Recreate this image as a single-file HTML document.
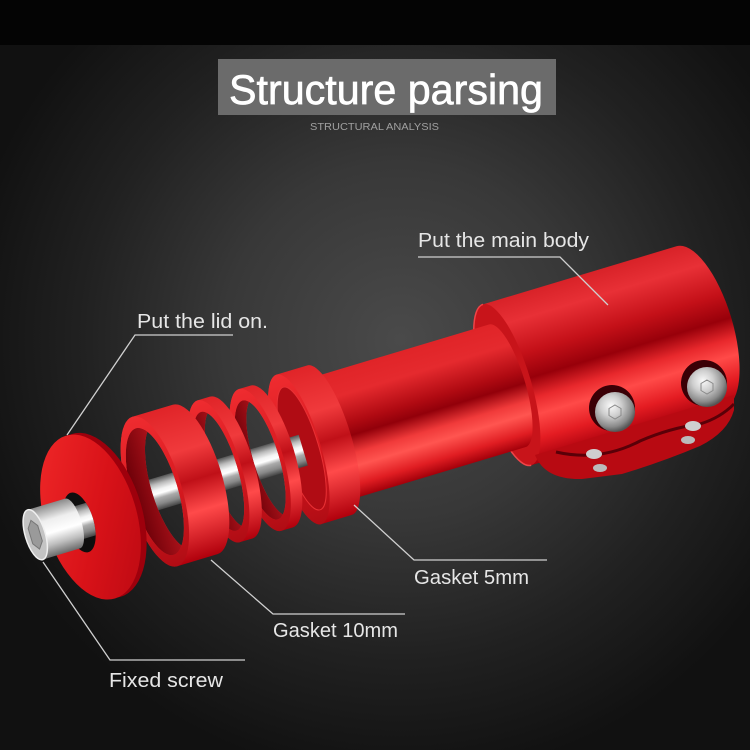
<!DOCTYPE html>
<html><head><meta charset="utf-8"><style>
html,body{margin:0;padding:0;background:#111;}
svg{display:block;}
</style></head><body>
<svg width="750" height="750" viewBox="0 0 750 750" xmlns="http://www.w3.org/2000/svg">
<defs>
  <radialGradient id="bg" gradientUnits="userSpaceOnUse" cx="400" cy="340" r="440">
    <stop offset="0" stop-color="#4a4a4a"/>
    <stop offset="0.4" stop-color="#383838"/>
    <stop offset="0.72" stop-color="#212121"/>
    <stop offset="1" stop-color="#111111"/>
  </radialGradient>
  <linearGradient id="gBody" x1="0" y1="0" x2="0" y2="1">
    <stop offset="0" stop-color="#d82228"/>
    <stop offset="0.15" stop-color="#e83036"/>
    <stop offset="0.35" stop-color="#c41018"/>
    <stop offset="0.5" stop-color="#98000a"/>
    <stop offset="0.62" stop-color="#e8282c"/>
    <stop offset="0.72" stop-color="#ff4a48"/>
    <stop offset="0.86" stop-color="#e41c22"/>
    <stop offset="1" stop-color="#a8000c"/>
  </linearGradient>
  <linearGradient id="gTube" x1="0" y1="0" x2="0" y2="1">
    <stop offset="0" stop-color="#e02428"/>
    <stop offset="0.2" stop-color="#e52a2e"/>
    <stop offset="0.42" stop-color="#b00a12"/>
    <stop offset="0.52" stop-color="#92000a"/>
    <stop offset="0.66" stop-color="#f03a3a"/>
    <stop offset="0.76" stop-color="#ff5550"/>
    <stop offset="0.9" stop-color="#e01d22"/>
    <stop offset="1" stop-color="#a3000a"/>
  </linearGradient>
  <linearGradient id="gRing" x1="0" y1="0" x2="0" y2="1">
    <stop offset="0" stop-color="#e02428"/>
    <stop offset="0.3" stop-color="#f03a3c"/>
    <stop offset="0.5" stop-color="#c01018"/>
    <stop offset="0.7" stop-color="#ff4a4a"/>
    <stop offset="1" stop-color="#b0000c"/>
  </linearGradient>
  <linearGradient id="gFace" x1="0" y1="0" x2="0" y2="1">
    <stop offset="0" stop-color="#ef2c30"/>
    <stop offset="0.5" stop-color="#d81a20"/>
    <stop offset="1" stop-color="#b00c14"/>
  </linearGradient>
  <linearGradient id="gWall" x1="0" y1="0" x2="1" y2="0">
    <stop offset="0" stop-color="#6a0008"/>
    <stop offset="1" stop-color="#c01820"/>
  </linearGradient>
  <linearGradient id="gWasher" x1="0" y1="0" x2="1" y2="1">
    <stop offset="0" stop-color="#f22a2a"/>
    <stop offset="0.55" stop-color="#d81218"/>
    <stop offset="1" stop-color="#b80812"/>
  </linearGradient>
  <linearGradient id="gRod" x1="0" y1="0" x2="0" y2="1">
    <stop offset="0" stop-color="#555"/>
    <stop offset="0.2" stop-color="#bbb"/>
    <stop offset="0.38" stop-color="#f4f4f4"/>
    <stop offset="0.5" stop-color="#ffffff"/>
    <stop offset="0.64" stop-color="#aaa"/>
    <stop offset="0.82" stop-color="#888"/>
    <stop offset="1" stop-color="#444"/>
  </linearGradient>
  <linearGradient id="gHead" x1="0" y1="0" x2="0" y2="1">
    <stop offset="0" stop-color="#8a8a8a"/>
    <stop offset="0.3" stop-color="#eeeeee"/>
    <stop offset="0.55" stop-color="#ffffff"/>
    <stop offset="0.78" stop-color="#bdbdbd"/>
    <stop offset="1" stop-color="#6a6a6a"/>
  </linearGradient>
  <radialGradient id="gBolt" cx="0.4" cy="0.35" r="0.65">
    <stop offset="0" stop-color="#fafafa"/>
    <stop offset="0.4" stop-color="#cfcfcf"/>
    <stop offset="0.8" stop-color="#8a8a8a"/>
    <stop offset="1" stop-color="#555"/>
  </radialGradient>
  <clipPath id="holeClip"><ellipse cx="-51" cy="5" rx="14" ry="31"/></clipPath>
</defs>

<!-- background -->
<rect x="0" y="0" width="750" height="750" fill="url(#bg)"/>
<rect x="0" y="0" width="750" height="45" fill="#040404"/>

<!-- title -->
<rect x="218" y="59" width="338" height="56" fill="#6b6b6b"/>
<text x="229" y="104" font-family="Liberation Sans, sans-serif" font-size="42" fill="#ffffff" stroke="#ffffff" stroke-width="0.7" textLength="314" lengthAdjust="spacingAndGlyphs">Structure parsing</text>
<text x="310" y="130" font-family="Liberation Sans, sans-serif" font-size="10" fill="#a0a0a0" textLength="129" lengthAdjust="spacingAndGlyphs">STRUCTURAL ANALYSIS</text>

<!-- product (local frame: axis along u) -->
<g transform="translate(127,503) rotate(-16.7)">
  <!-- main body -->
  <path d="M398,-88 L600,-88 A32,84 0 0 1 600,80 L398,80 A24,84 0 0 1 398,-88 Z" fill="url(#gBody)"/>
  <ellipse cx="398" cy="-4" rx="24" ry="84" fill="#c8141a"/>
  <path d="M398,-88 A24,84 0 0 0 398,80" fill="none" stroke="#f04448" stroke-width="1.5"/>
</g>

<!-- clamp + bolts (image coords) -->
<path d="M535,455 Q545,480 582,479 L622,474 Q662,462 700,446 Q728,432 734,410 L734,395 Z" fill="#b80a12"/>
<path d="M556,452 Q600,462 640,441 Q670,428 700,424 Q720,418 734,404" stroke="#5a0008" stroke-width="3" fill="none"/>
<ellipse cx="594" cy="454" rx="8" ry="5" fill="#cfcfcf"/>
<ellipse cx="600" cy="468" rx="7" ry="4" fill="#bbbbbb"/>
<ellipse cx="693" cy="426" rx="8" ry="5" fill="#cfcfcf"/>
<ellipse cx="688" cy="440" rx="7" ry="4" fill="#bbbbbb"/>
<circle cx="612" cy="408" r="23" fill="#3a0006"/>
<circle cx="615" cy="412" r="20" fill="url(#gBolt)"/>
<polygon points="615,405 621,408.5 621,415.5 615,419 609,415.5 609,408.5" fill="none" stroke="#8a8a8a" stroke-width="1"/>
<circle cx="704" cy="383" r="23" fill="#3a0006"/>
<circle cx="707" cy="387" r="20" fill="url(#gBolt)"/>
<polygon points="707,380 713,383.5 713,390.5 707,394 701,390.5 701,383.5" fill="none" stroke="#8a8a8a" stroke-width="1"/>

<g transform="translate(127,503) rotate(-16.7)">
  <!-- tube -->
  <path d="M200,-67 L398,-67 A18,64 0 0 1 398,61 L200,61 Z" fill="url(#gTube)"/>

  <!-- ring4 collar -->
  <path d="M180,-80 L212,-80 A22,78 0 0 1 212,76 L180,76 A22,78 0 0 1 180,-80 Z" fill="url(#gRing)"/>
  <ellipse cx="180" cy="-2" rx="22" ry="78" fill="url(#gFace)"/>
  <ellipse cx="183" cy="-2" rx="17" ry="64" fill="#b00c14" stroke="#e83034" stroke-width="1"/>

  <!-- rod -->
  <rect x="-70" y="-16" width="254" height="32" fill="url(#gRod)"/>

  <!-- ring3 -->
  <path fill-rule="evenodd" fill="url(#gRing)" d="M140,-77 L152,-77 A23,74 0 0 1 152,71 L140,71 A23,74 0 0 1 140,-77 Z M146,-61.8 A19,62 0 0 1 146,55.8 A19,62 0 0 1 146,-61.8 Z"/>
  <path fill-rule="evenodd" fill="url(#gWall)" d="M121,-3 A19,62 0 1 0 159,-3 A19,62 0 1 0 121,-3 Z M146,-61.8 A19,62 0 0 1 146,55.8 A19,62 0 0 1 146,-61.8 Z"/>
  <path fill-rule="evenodd" fill="url(#gFace)" d="M117,-3 A23,74 0 1 0 163,-3 A23,74 0 1 0 117,-3 Z M121,-3 A19,62 0 1 0 159,-3 A19,62 0 1 0 121,-3 Z"/>

  <!-- ring2 -->
  <path fill-rule="evenodd" fill="url(#gRing)" d="M97,-78 L110,-78 A23,74 0 0 1 110,70 L97,70 A23,74 0 0 1 97,-78 Z M103,-62.8 A19,62 0 0 1 103,54.8 A19,62 0 0 1 103,-62.8 Z"/>
  <path fill-rule="evenodd" fill="url(#gWall)" d="M78,-4 A19,62 0 1 0 116,-4 A19,62 0 1 0 78,-4 Z M103,-62.8 A19,62 0 0 1 103,54.8 A19,62 0 0 1 103,-62.8 Z"/>
  <path fill-rule="evenodd" fill="url(#gFace)" d="M74,-4 A23,74 0 1 0 120,-4 A23,74 0 1 0 74,-4 Z M78,-4 A19,62 0 1 0 116,-4 A19,62 0 1 0 78,-4 Z"/>

  <!-- gasket 10mm -->
  <path fill-rule="evenodd" fill="url(#gRing)" d="M30,-81 L72,-81 A27,78 0 0 1 72,75 L30,75 A27,78 0 0 1 30,-81 Z M40,-62.4 A23,66 0 0 1 40,56.4 A23,66 0 0 1 40,-62.4 Z"/>
  <path fill-rule="evenodd" fill="url(#gWall)" d="M7,-3 A23,66 0 1 0 53,-3 A23,66 0 1 0 7,-3 Z M40,-62.4 A23,66 0 0 1 40,56.4 A23,66 0 0 1 40,-62.4 Z"/>
  <path fill-rule="evenodd" fill="url(#gFace)" d="M3,-3 A27,78 0 1 0 57,-3 A27,78 0 1 0 3,-3 Z M7,-3 A23,66 0 1 0 53,-3 A23,66 0 1 0 7,-3 Z"/>

  <!-- washer (lid) -->
  <ellipse cx="-33" cy="3" rx="46" ry="85" fill="#9e000c"/>
  <ellipse cx="-39" cy="3" rx="46" ry="85" fill="url(#gWasher)"/>
  <ellipse cx="-51" cy="5" rx="14" ry="31" fill="#0e0e0e"/>
  <g clip-path="url(#holeClip)">
    <rect x="-75" y="-12" width="45" height="34" fill="url(#gRod)"/>
  </g>

  <!-- screw head -->
  <path d="M-97,-22 L-58,-22 A9,26 0 0 1 -58,30 L-97,30 Z" fill="url(#gHead)"/>
  <ellipse cx="-97" cy="4" rx="10" ry="26" fill="#c4c4c4" stroke="#f0f0f0" stroke-width="1.5"/>
  <polygon points="-97,-11 -92,-4 -92,12 -97,19 -102,12 -102,-4" fill="#9a9a9a" stroke="#777" stroke-width="1"/>
</g>

<!-- leader lines -->
<g stroke="#d0d0d0" stroke-width="1.3" fill="none">
  <polyline points="418,257 560,257 608,305"/>
  <polyline points="233,335 135,335 67,435"/>
  <polyline points="547,560 414,560 354,505"/>
  <polyline points="405,614 273,614 211,560"/>
  <polyline points="245,660 110,660 43,562"/>
</g>

<!-- labels -->
<g font-family="Liberation Sans, sans-serif" font-size="20" fill="#e6e6e6">
  <text x="418" y="247" textLength="171" lengthAdjust="spacingAndGlyphs">Put the main body</text>
  <text x="137" y="328" textLength="131" lengthAdjust="spacingAndGlyphs">Put the lid on.</text>
  <text x="414" y="584" textLength="115" lengthAdjust="spacingAndGlyphs">Gasket 5mm</text>
  <text x="273" y="637" textLength="125" lengthAdjust="spacingAndGlyphs">Gasket 10mm</text>
  <text x="109" y="687" textLength="114" lengthAdjust="spacingAndGlyphs">Fixed screw</text>
</g>
</svg>
</body></html>
